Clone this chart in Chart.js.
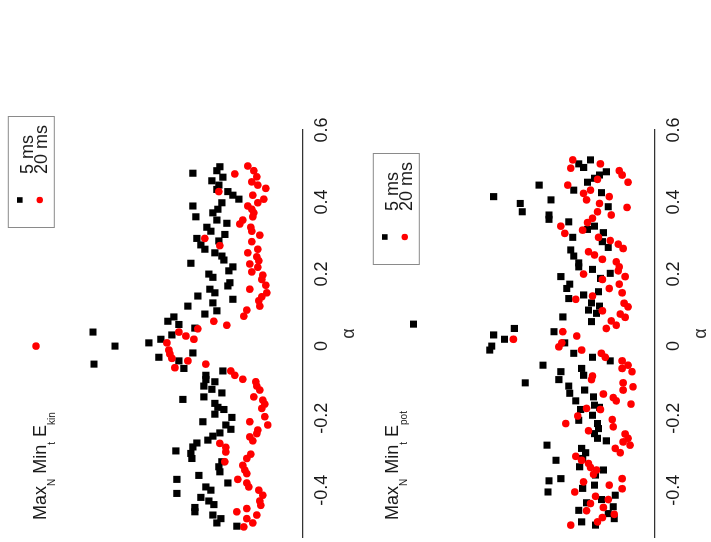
<!DOCTYPE html>
<html>
<head>
<meta charset="utf-8">
<script src="https://cdn.jsdelivr.net/npm/chart.js@4.4.1/dist/chart.umd.min.js"></script>
<style>
body { margin: 0; background: #fff; overflow: hidden; width: 711px; height: 542px; }
/* the figure is drawn upright and turned a quarter turn to the left */
#fig { position: absolute; left: 0; top: 0; width: 542px; height: 722px;
       transform-origin: 0 0; transform: translate(0px, 542px) rotate(-90deg); }
#fig canvas { display: block; }
</style>
</head>
<body>
<div id="fig">
  <canvas id="kin" width="542" height="370"></canvas>
  <canvas id="pot" width="542" height="352"></canvas>
</div>
<script>
// alpha ticks
const alphaTicks = [-0.4, -0.2, 0, 0.2, 0.4, 0.6]
const alphaMin = -0.53
const alphaMax = 0.6

// Max_N Min_t E_kin, 5 ms
const kin5Alpha = [0.480,0.498,0.487,0.469,0.459,0.447,0.435,0.429,0.419,0.408,0.398,0.389,0.380,0.370,0.359,0.350,0.341,0.330,0.319,0.310,0.299,0.292,0.281,0.269,0.259,0.250,0.239,0.230,0.220,0.209,0.200,0.191,
  0.176,0.167,0.158,0.148,0.139,0.130,0.120,0.111,0.098,0.089,0.081,0.069,0.060,0.050,0.039,0.031,0.019,0.009,0.000,-0.019,-0.031,-0.041,-0.050,-0.062,-0.069,-0.081,-0.093,-0.099,-0.111,-0.120,-0.130,-0.141,-0.148,-0.159,-0.170,-0.176,
  -0.189,-0.198,-0.210,-0.219,-0.231,-0.241,-0.250,-0.261,-0.269,-0.280,-0.291,-0.298,-0.312,-0.321,-0.335,-0.349,-0.359,-0.370,-0.380,-0.391,-0.400,-0.409,-0.420,-0.430,-0.440,-0.448,-0.460,-0.469,-0.479,-0.491,-0.500]
const kin5E = [1.10,0.83,0.86,0.80,0.91,0.84,0.86,0.75,0.70,0.64,0.81,1.10,0.85,0.90,1.07,0.86,0.76,0.96,0.92,0.78,1.06,0.84,1.02,0.98,0.88,0.81,0.79,1.12,0.70,0.74,0.94,0.90,
  0.73,0.75,0.93,0.88,1.05,0.70,0.90,1.15,0.86,0.98,1.29,1.35,1.24,1.08,2.10,1.31,1.42,1.54,1.88,1.10,1.44,1.24,2.09,1.19,0.80,0.97,0.97,0.88,0.99,0.91,0.81,0.99,1.20,0.88,0.85,0.79,
  0.88,0.71,1.00,0.77,0.72,0.83,0.90,0.95,1.06,1.10,1.27,1.12,1.11,0.81,0.84,0.83,1.04,1.26,0.75,0.97,0.92,1.26,1.02,0.94,0.89,1.08,1.08,0.90,0.82,0.86,0.66]

// Max_N Min_t E_kin, 20 ms
const kin20Alpha = [0.500,0.487,0.478,0.470,0.456,0.447,0.438,0.429,0.419,0.408,0.398,0.389,0.380,0.370,0.359,0.350,0.339,0.330,0.319,0.308,0.299,0.290,0.279,0.269,0.259,0.248,0.237,0.228,0.219,0.206,0.197,0.185,
  0.169,0.158,0.148,0.137,0.126,0.111,0.100,0.083,0.069,0.058,0.048,0.039,0.028,0.019,0.009,-0.011,-0.022,-0.034,-0.041,-0.050,-0.060,-0.069,-0.081,-0.092,-0.099,-0.111,-0.122,-0.141,-0.150,-0.161,-0.173,
  -0.196,-0.210,-0.219,-0.233,-0.243,-0.252,-0.263,-0.270,-0.281,-0.294,-0.300,-0.312,-0.321,-0.331,-0.344,-0.354,-0.370,-0.380,-0.391,-0.400,-0.414,-0.430,-0.442,-0.451,-0.460,-0.469,-0.479,-0.491,-0.502,
  0.000]
const kin20E = [0.55,0.49,0.68,0.46,0.51,0.45,0.37,0.84,0.50,0.39,0.45,0.55,0.51,0.49,0.50,0.60,0.63,0.52,0.51,0.43,0.98,0.51,0.83,0.45,0.55,0.46,0.44,0.53,0.45,0.51,0.40,0.41,
  0.37,0.53,0.36,0.41,0.44,0.43,0.56,0.59,0.89,0.76,1.05,1.24,1.17,1.09,1.36,1.34,1.33,1.31,1.15,0.97,1.28,0.72,0.68,0.60,0.47,0.46,0.43,0.49,0.40,0.38,0.41,
  0.38,0.53,0.35,0.45,0.46,0.53,0.50,0.83,0.77,0.77,0.52,0.56,0.78,0.60,0.58,0.56,0.65,0.56,0.54,0.44,0.40,0.43,0.42,0.56,0.66,0.46,0.56,0.50,0.59,
  2.67]

// Max_N Min_t E_pot, 5 ms
const pot5Alpha = [0.517,0.506,0.496,0.484,0.475,0.466,0.455,0.447,0.433,0.426,0.415,0.406,0.396,0.387,0.373,0.364,0.352,0.345,0.333,0.324,0.315,0.302,0.290,0.274,0.267,0.250,0.231,0.220,0.213,0.202,0.193,0.188,
  0.172,0.160,0.151,0.142,0.132,0.120,0.111,0.100,0.091,0.081,0.068,0.061,0.049,0.040,0.031,0.019,0.009,0.000,-0.011,-0.020,-0.031,-0.041,-0.053,-0.062,-0.071,-0.081,-0.093,-0.102,-0.111,-0.122,-0.131,-0.141,-0.152,-0.164,-0.170,-0.176,
  -0.192,-0.206,-0.215,-0.229,-0.243,-0.256,-0.263,-0.275,-0.284,-0.296,-0.312,-0.317,-0.335,-0.344,-0.358,-0.368,-0.374,-0.386,-0.395,-0.405,-0.414,-0.426,-0.435,-0.446,-0.456,-0.465,-0.479,-0.488,-0.497]
const pot5E = [0.65,0.77,0.72,0.49,0.56,0.61,0.68,1.17,0.82,0.54,1.63,1.05,1.36,0.47,1.34,1.07,1.07,0.87,0.61,0.68,0.52,0.83,0.53,0.47,0.85,0.82,0.77,0.77,0.63,0.45,0.95,0.55,
  0.86,0.89,0.57,0.72,0.87,0.64,0.56,0.67,0.59,0.93,0.64,2.44,1.42,1.02,1.63,1.52,0.91,1.65,1.67,0.82,0.63,0.45,1.13,0.74,0.95,0.72,0.97,1.31,0.87,0.71,0.86,0.62,0.80,0.61,0.56,0.75,
  0.63,0.77,0.58,0.57,0.61,0.58,0.49,1.09,0.74,0.70,0.73,1.00,0.76,0.52,0.60,0.95,1.07,0.61,0.73,1.08,0.40,0.54,0.69,0.42,0.77,0.47,0.41,0.74,0.60]

// Max_N Min_t E_pot, 20 ms
const pot20Alpha = [0.517,0.506,0.494,0.487,0.475,0.463,0.455,0.447,0.433,0.424,0.415,0.406,0.396,0.385,0.373,0.364,0.355,0.343,0.333,0.322,0.313,0.302,0.293,0.283,0.271,0.262,0.253,0.241,0.234,0.220,0.209,0.200,0.193,0.185,
  0.172,0.160,0.148,0.139,0.130,0.119,0.109,0.098,0.089,0.080,0.070,0.058,0.049,0.040,0.028,0.019,0.009,-0.002,-0.011,-0.020,-0.031,-0.041,-0.053,-0.062,-0.071,-0.083,-0.093,-0.102,-0.113,-0.122,-0.133,-0.143,-0.152,-0.161,-0.173,-0.176,
  -0.194,-0.204,-0.215,-0.224,-0.235,-0.244,-0.256,-0.266,-0.275,-0.284,-0.296,-0.306,-0.317,-0.326,-0.337,-0.344,-0.356,-0.368,-0.377,-0.386,-0.396,-0.405,-0.417,-0.426,-0.437,-0.448,-0.457,-0.467,-0.476,-0.488,-0.497]
const pot20E = [0.83,0.55,0.85,0.36,0.33,0.58,0.27,0.88,0.65,0.72,0.46,0.69,0.56,0.28,0.58,0.44,0.63,0.68,0.95,0.73,0.91,0.57,0.45,0.37,0.32,0.67,0.61,0.53,0.39,0.36,0.37,0.72,0.30,0.53,
  0.36,0.46,0.33,0.63,0.80,0.31,0.27,0.53,0.35,0.30,0.44,0.39,0.49,0.93,0.79,1.43,0.94,0.97,0.74,0.54,0.50,0.33,0.27,0.33,0.23,0.63,0.64,0.32,0.22,0.32,0.52,0.42,0.39,0.24,0.69,0.55,
  0.78,0.43,0.90,0.42,0.67,0.30,0.27,0.32,0.25,0.40,0.35,0.80,0.74,0.67,0.65,0.59,0.62,0.33,0.72,0.46,0.33,0.81,0.60,0.47,0.65,0.52,0.69,0.41,0.53,0.58,0.85]

const seriesNames = ['5 ms', '20 ms']
const kinLabel = [['Max'], ['N', 1], [' Min'], ['t', 1], [' E'], ['kin', 1]]
const potLabel = [['Max'], ['N', 1], [' Min'], ['t', 1], [' E'], ['pot', 1]]

const FONT = '"Liberation Sans", Arial, Helvetica, sans-serif'

function pts(xs, ys) {
    return xs.map((a, i) => ({x: a, y: ys[i]}))
}

// y label with subscripts and the boxed legend
const panelText = {
    id: 'panelText',
    afterDraw(chart, args, opts) {
        const ctx = chart.ctx
        const area = chart.chartArea
        ctx.save()
        ctx.fillStyle = '#1a1a1a'
        ctx.textBaseline = 'alphabetic'
        let x = 22
        const base = area.bottom - 257
        opts.label.forEach(part => {
            ctx.font = (part[1] ? '10px ' : '18px ') + FONT
            ctx.fillText(part[0], x, part[1] ? base + 9 : base)
            x += ctx.measureText(part[0]).width
        })

        // legend
        const bx = opts.legendX, by = area.bottom - opts.legendTop
        ctx.strokeStyle = '#8a8a8a'
        ctx.lineWidth = 1
        ctx.strokeRect(bx + 0.5, by + 0.5, 111, 46)
        ctx.font = '18px ' + FONT
        ctx.textBaseline = 'middle'
        const ds = chart.data.datasets
        // square row
        ctx.fillStyle = ds[0].backgroundColor
        ctx.fillRect(bx + 28 - 2.8, by + 12 - 2.8, 5.6, 5.6)
        ctx.fillStyle = '#1a1a1a'
        ctx.fillText(ds[0].label, bx + 54, by + 20.5)
        // dot row
        ctx.fillStyle = ds[1].backgroundColor
        ctx.beginPath()
        ctx.arc(bx + 28, by + 32, 3.2, 0, Math.PI * 2)
        ctx.fill()
        ctx.fillStyle = '#1a1a1a'
        ctx.fillText(ds[1].label, bx + 54, by + 34)
        ctx.restore()
    }
}

function makePanel(el, a5, e5, a20, e20, label, legendX, legendTop, padTop) {
    return new Chart(document.getElementById(el), {
        type: 'scatter',
        data: {
            datasets: [{
                label: seriesNames[0],
                data: pts(a5, e5),
                pointStyle: 'rect',
                pointRadius: 5,
                pointBorderWidth: 0,
                backgroundColor: '#000000',
                borderColor: '#000000',
                order: 2
            }, {
                label: seriesNames[1],
                data: pts(a20, e20),
                pointStyle: 'circle',
                pointRadius: 3.8,
                pointBorderWidth: 0,
                backgroundColor: '#ff0000',
                borderColor: '#ff0000',
                order: 1
            }]
        },
        options: {
            responsive: false,
            animation: false,
            events: [],
            layout: { padding: { left: 5, right: 130, top: padTop, bottom: 0 } },
            scales: {
                x: {
                    type: 'linear',
                    min: alphaMin,
                    max: alphaMax,
                    grid: { display: false, drawTicks: false },
                    border: { display: true, color: '#333333', width: 1.3 },
                    afterBuildTicks: function(axis) {
                        axis.ticks = alphaTicks.map(v => ({value: v}))
                    },
                    ticks: {
                        padding: 8,
                        color: '#1a1a1a',
                        font: { family: FONT, size: 18 },
                        callback: v => String(v)
                    },
                    title: {
                        display: true,
                        text: 'α',
                        color: '#333333',
                        font: { family: FONT, size: 18 },
                        padding: { top: -2, bottom: 10 }
                    }
                },
                y: {
                    display: false,
                    min: 0,
                    max: 2.83
                }
            },
            plugins: {
                legend: { display: false },
                tooltip: { enabled: false },
                panelText: { label: label, legendX: legendX, legendTop: legendTop }
            }
        },
        plugins: [panelText]
    })
}

makePanel('kin', kin5Alpha, kin5E, kin20Alpha, kin20E, kinLabel, 314, 295, 20)
makePanel('pot', pot5Alpha, pot5E, pot20Alpha, pot20E, potLabel, 277, 282, 2)
</script>
</body>
</html>
